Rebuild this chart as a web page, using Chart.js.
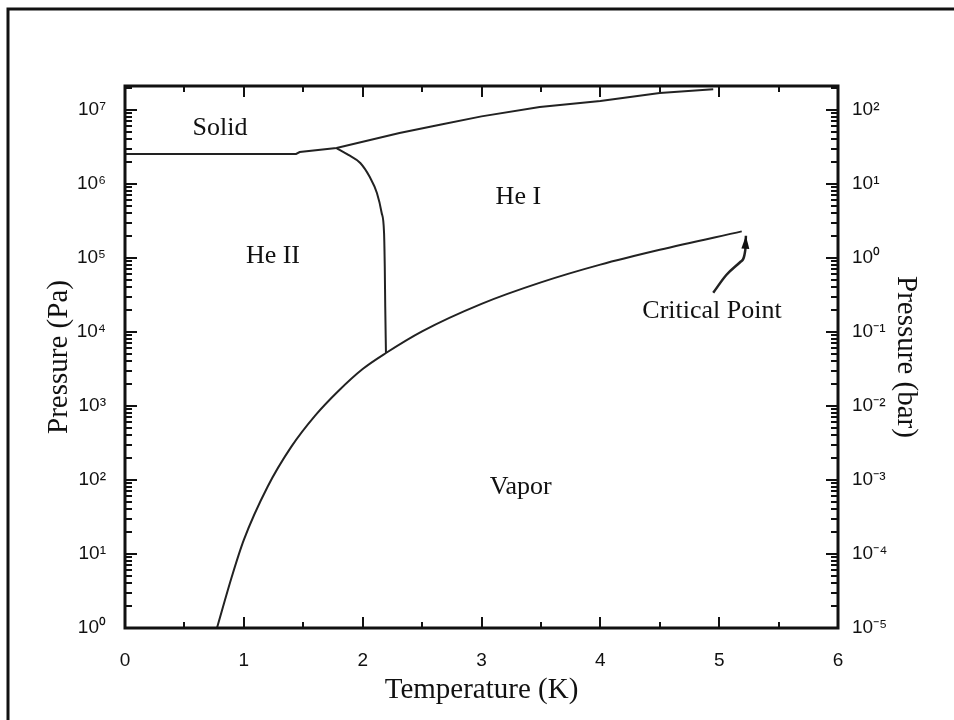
<!DOCTYPE html>
<html><head><meta charset="utf-8"><title>Helium Phase Diagram</title>
<script src="https://cdn.jsdelivr.net/npm/chart.js"></script>
<style>
html,body{margin:0;padding:0;background:#fff;}
canvas{display:block;}
</style></head>
<body>
<canvas id="phase" width="954" height="720"></canvas>
<script>
// ==================== DATA ====================
// temperature in K, pressure in Pa
const meltT = [0, 0.5, 1.0, 1.44, 1.47, 1.78, 2.31, 2.65, 3.0, 3.49, 4.0, 4.5, 4.95];
const meltP = [2.55e6, 2.55e6, 2.55e6, 2.55e6, 2.7e6, 3.06e6, 4.9e6, 6.3e6, 8.2e6, 1.1e7, 1.32e7, 1.7e7, 1.9e7];

const lambdaT = [1.78, 1.88, 1.98, 2.06, 2.12, 2.16, 2.18, 2.186, 2.19, 2.196];
const lambdaP = [3.06e6, 2.47e6, 1.92e6, 1.24e6, 7.55e5, 4.06e5, 2.18e5, 7.55e4, 2.18e4, 5.2e3];

const vaporT = [0.774, 0.9, 1.0, 1.2, 1.4, 1.6, 1.8, 2.0, 2.196, 2.5, 3.0, 3.5, 4.0, 4.5, 5.19];
const vaporP = [1, 5.0, 15.5, 81, 282, 741, 1620, 3160, 5200, 1.02e4, 2.4e4, 4.68e4, 8.13e4, 1.29e5, 2.29e5];

// arrow from "Critical Point" label up to the end of the vapor curve
const arrowT = [4.95, 5.06, 5.18, 5.22, 5.225];
const arrowP = [3.39e4, 5.89e4, 8.9e4, 1.29e5, 2.0e5];

const regionText = ['Solid', 'He II', 'He I', 'Vapor', 'Critical Point'];
const regionT = [0.80, 1.245, 3.31, 3.33, 4.94];
const regionP = [5.7e6, 1.07e5, 6.7e5, 80, 1.9e4];

const tempTicks = [0, 1, 2, 3, 4, 5, 6];
const paTicks = [1, 10, 100, 1e3, 1e4, 1e5, 1e6, 1e7];
const paLabels = ['10⁰', '10¹', '10²', '10³', '10⁴', '10⁵', '10⁶', '10⁷'];
const barTicks = [1e-5, 1e-4, 1e-3, 1e-2, 1e-1, 1, 10, 100];
const barLabels = ['10⁻⁵', '10⁻⁴', '10⁻³', '10⁻²', '10⁻¹', '10⁰', '10¹', '10²'];

const pts = (xs, ys) => xs.map((x, i) => ({ x, y: ys[i] }));

// ==================== FRAME / TICKS / TEXT ====================
const decor = {
    id: 'decor',
    afterDatasetsDraw(chart) {
        const { ctx, chartArea: a, scales } = chart;
        const x = scales.x, y = scales.y, y2 = scales.y2;
        ctx.save();
        ctx.strokeStyle = '#111';
        ctx.lineCap = 'butt';

        // tick marks point inward
        ctx.lineWidth = 2;
        ctx.beginPath();
        for (let t = 0; t <= 6; t += 0.5) {
            const px = Math.round(x.getPixelForValue(t));
            const len = Number.isInteger(t) ? 11 : 6;
            ctx.moveTo(px, a.bottom); ctx.lineTo(px, a.bottom - len);
            ctx.moveTo(px, a.top); ctx.lineTo(px, a.top + len);
        }
        [[y, a.left, 1], [y2, a.right, -1]].forEach(([s, edge, dir]) => {
            const lo = Math.round(Math.log10(s.min)), hi = Math.floor(Math.log10(s.max));
            for (let d = lo; d <= hi; d++) {
                for (let k = 1; k <= 9; k++) {
                    const v = k * Math.pow(10, d);
                    if (v > s.max) break;
                    const py = Math.round(s.getPixelForValue(v));
                    const len = k === 1 ? 12 : 7;
                    ctx.moveTo(edge, py); ctx.lineTo(edge + dir * len, py);
                }
            }
        });
        ctx.stroke();

        // plot frame
        ctx.lineWidth = 3;
        ctx.strokeRect(a.left, a.top, a.right - a.left, a.bottom - a.top);

        // outer picture border
        ctx.beginPath();
        ctx.moveTo(8, 720); ctx.lineTo(8, 9); ctx.lineTo(954, 9);
        ctx.stroke();

        // arrowhead
        const n = arrowT.length;
        const tx = x.getPixelForValue(arrowT[n - 1]), ty = y.getPixelForValue(arrowP[n - 1]);
        const bx = x.getPixelForValue(arrowT[n - 2]), by = y.getPixelForValue(arrowP[n - 2]);
        const ang = Math.atan2(ty - by, tx - bx);
        ctx.fillStyle = '#111';
        ctx.beginPath();
        ctx.moveTo(tx, ty);
        ctx.lineTo(tx - 13 * Math.cos(ang) + 4 * Math.sin(ang), ty - 13 * Math.sin(ang) - 4 * Math.cos(ang));
        ctx.lineTo(tx - 13 * Math.cos(ang) - 4 * Math.sin(ang), ty - 13 * Math.sin(ang) + 4 * Math.cos(ang));
        ctx.closePath();
        ctx.fill();

        // region labels
        ctx.font = '26px "Liberation Serif", serif';
        ctx.textAlign = 'center';
        ctx.textBaseline = 'middle';
        regionText.forEach((txt, i) => {
            ctx.fillText(txt, x.getPixelForValue(regionT[i]), y.getPixelForValue(regionP[i]));
        });
        ctx.restore();
    }
};

// ==================== CHART ====================
const lineStyle = { borderColor: '#222', borderWidth: 2, pointRadius: 0, fill: false };
const tickFont = { family: '"Liberation Sans", Arial, sans-serif', size: 19 };
const titleFont = { family: '"Liberation Serif", "Times New Roman", serif', size: 29 };

new Chart(document.getElementById('phase'), {
    type: 'line',
    data: {
        datasets: [
            { ...lineStyle, label: 'melting', data: pts(meltT, meltP), tension: 0 },
            { ...lineStyle, label: 'lambda', data: pts(lambdaT, lambdaP), cubicInterpolationMode: 'monotone' },
            { ...lineStyle, label: 'vapor', data: pts(vaporT, vaporP), cubicInterpolationMode: 'monotone' },
            { ...lineStyle, label: 'arrow', data: pts(arrowT, arrowP), cubicInterpolationMode: 'monotone', borderWidth: 2.5 }
        ]
    },
    options: {
        responsive: false,
        animation: false,
        layout: { padding: { top: 86, left: 0, right: 0, bottom: 0 } },
        plugins: { legend: { display: false }, tooltip: { enabled: false } },
        scales: {
            x: {
                type: 'linear', position: 'bottom', min: 0, max: 6,
                grid: { display: false, drawTicks: false }, border: { display: false },
                afterBuildTicks: s => { s.ticks = tempTicks.map(v => ({ value: v })); },
                afterFit: s => { s.height = 92; },
                ticks: { color: '#111', font: tickFont, padding: 21, callback: v => String(v) },
                title: { display: true, text: 'Temperature (K)', color: '#111', font: titleFont, padding: { top: 0, bottom: 12 } }
            },
            y: {
                type: 'logarithmic', position: 'left', min: 1, max: 2.11e7, bounds: 'data',
                grid: { display: false, drawTicks: false }, border: { display: false },
                afterBuildTicks: s => { s.ticks = paTicks.map(v => ({ value: v })); },
                afterFit: s => { s.width = 125; },
                ticks: { color: '#111', font: tickFont, padding: 19, callback: (v, i) => paLabels[i] },
                title: { display: true, text: 'Pressure (Pa)', color: '#111', font: titleFont, padding: { top: 42, bottom: 0 } }
            },
            y2: {
                type: 'logarithmic', position: 'right', min: 1e-5, max: 211, bounds: 'data',
                grid: { display: false, drawTicks: false }, border: { display: false },
                afterBuildTicks: s => { s.ticks = barTicks.map(v => ({ value: v })); },
                afterFit: s => { s.width = 116; },
                ticks: { color: '#111', font: tickFont, padding: 14, callback: (v, i) => barLabels[i] },
                title: { display: true, text: 'Pressure (bar)', color: '#111', font: titleFont, padding: { top: 31, bottom: 0 } }
            }
        }
    },
    plugins: [decor]
});
</script>
</body></html>
